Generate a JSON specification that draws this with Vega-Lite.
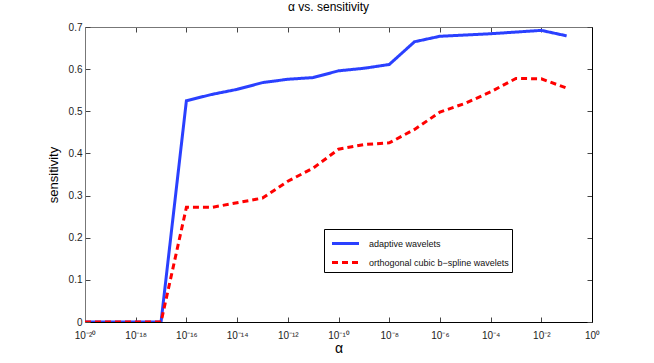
{
  "$schema": "https://vega.github.io/schema/vega-lite/v6.json",
  "width": 507,
  "height": 295,
  "autosize": {"type": "none"},
  "padding": {"left": 85, "top": 27, "right": 62, "bottom": 41},
  "background": "white",
  "title": {"text": "α vs. sensitivity", "font": "Liberation Sans", "fontSize": 12, "fontWeight": "normal", "color": "#000", "offset": 8, "dx": -10},
  "config": {
    "view": {"stroke": null},
    "font": "Liberation Sans",
    "axis": {"grid": false, "labelFont": "Liberation Sans", "titleFont": "Liberation Sans", "labelColor": "#222", "titleColor": "#000", "titleFontWeight": "normal", "tickColor": "#444", "domainColor": "#444"}
  },
  "data": {"values": [
    {"series": "adaptive wavelets", "alpha": 1e-20, "sensitivity": 0},
    {"series": "adaptive wavelets", "alpha": 1e-19, "sensitivity": 0},
    {"series": "adaptive wavelets", "alpha": 1e-18, "sensitivity": 0},
    {"series": "adaptive wavelets", "alpha": 1e-17, "sensitivity": 0},
    {"series": "adaptive wavelets", "alpha": 1e-16, "sensitivity": 0.525},
    {"series": "adaptive wavelets", "alpha": 1e-15, "sensitivity": 0.540},
    {"series": "adaptive wavelets", "alpha": 1e-14, "sensitivity": 0.552},
    {"series": "adaptive wavelets", "alpha": 1e-13, "sensitivity": 0.568},
    {"series": "adaptive wavelets", "alpha": 1e-12, "sensitivity": 0.576},
    {"series": "adaptive wavelets", "alpha": 1e-11, "sensitivity": 0.580},
    {"series": "adaptive wavelets", "alpha": 1e-10, "sensitivity": 0.596},
    {"series": "adaptive wavelets", "alpha": 1e-9, "sensitivity": 0.602},
    {"series": "adaptive wavelets", "alpha": 1e-8, "sensitivity": 0.611},
    {"series": "adaptive wavelets", "alpha": 1e-7, "sensitivity": 0.665},
    {"series": "adaptive wavelets", "alpha": 1e-6, "sensitivity": 0.678},
    {"series": "adaptive wavelets", "alpha": 1e-5, "sensitivity": 0.681},
    {"series": "adaptive wavelets", "alpha": 1e-4, "sensitivity": 0.684},
    {"series": "adaptive wavelets", "alpha": 1e-3, "sensitivity": 0.688},
    {"series": "adaptive wavelets", "alpha": 1e-2, "sensitivity": 0.692},
    {"series": "adaptive wavelets", "alpha": 1e-1, "sensitivity": 0.679},
    {"series": "orthogonal cubic b−spline wavelets", "alpha": 1e-20, "sensitivity": 0},
    {"series": "orthogonal cubic b−spline wavelets", "alpha": 1e-19, "sensitivity": 0},
    {"series": "orthogonal cubic b−spline wavelets", "alpha": 1e-18, "sensitivity": 0},
    {"series": "orthogonal cubic b−spline wavelets", "alpha": 1e-17, "sensitivity": 0},
    {"series": "orthogonal cubic b−spline wavelets", "alpha": 1e-16, "sensitivity": 0.272},
    {"series": "orthogonal cubic b−spline wavelets", "alpha": 1e-15, "sensitivity": 0.272},
    {"series": "orthogonal cubic b−spline wavelets", "alpha": 1e-14, "sensitivity": 0.283},
    {"series": "orthogonal cubic b−spline wavelets", "alpha": 1e-13, "sensitivity": 0.294},
    {"series": "orthogonal cubic b−spline wavelets", "alpha": 1e-12, "sensitivity": 0.334},
    {"series": "orthogonal cubic b−spline wavelets", "alpha": 1e-11, "sensitivity": 0.365},
    {"series": "orthogonal cubic b−spline wavelets", "alpha": 1e-10, "sensitivity": 0.410},
    {"series": "orthogonal cubic b−spline wavelets", "alpha": 1e-9, "sensitivity": 0.421},
    {"series": "orthogonal cubic b−spline wavelets", "alpha": 1e-8, "sensitivity": 0.425},
    {"series": "orthogonal cubic b−spline wavelets", "alpha": 1e-7, "sensitivity": 0.457},
    {"series": "orthogonal cubic b−spline wavelets", "alpha": 1e-6, "sensitivity": 0.498},
    {"series": "orthogonal cubic b−spline wavelets", "alpha": 1e-5, "sensitivity": 0.519},
    {"series": "orthogonal cubic b−spline wavelets", "alpha": 1e-4, "sensitivity": 0.546},
    {"series": "orthogonal cubic b−spline wavelets", "alpha": 1e-3, "sensitivity": 0.578},
    {"series": "orthogonal cubic b−spline wavelets", "alpha": 1e-2, "sensitivity": 0.577},
    {"series": "orthogonal cubic b−spline wavelets", "alpha": 1e-1, "sensitivity": 0.555}
  ]},
  "layer": [
    {
      "mark": {"type": "line", "strokeWidth": 3, "clip": true},
      "encoding": {
        "x": {"field": "alpha", "type": "quantitative",
          "scale": {"type": "log", "domain": [1e-20, 1], "nice": false},
          "axis": {"orient": "bottom", "title": "α", "titleFontSize": 14, "titlePadding": 1,
            "values": [1e-20, 1e-18, 1e-16, 1e-14, 1e-12, 1e-10, 1e-8, 1e-6, 1e-4, 1e-2, 1],
            "labelExpr": "'10' + replace(replace(replace(replace(replace(replace(replace(toString(round(log(datum.value)/LN10)), '-', '⁻'), '0', '⁰'), '1', '¹'), '2', '²'), '4', '⁴'), '6', '⁶'), '8', '⁸')",
            "labelFontSize": 10, "tickSize": -5, "labelPadding": 13, "domainColor": "#000", "labelFlush": false}},
        "y": {"field": "sensitivity", "type": "quantitative",
          "scale": {"domain": [0, 0.7], "nice": false, "zero": false},
          "axis": {"orient": "left", "title": "sensitivity", "titleFontSize": 13, "titlePadding": 8,
            "values": [0, 0.1, 0.2, 0.3, 0.4, 0.5, 0.6, 0.7], "format": ".1~f",
            "labelFontSize": 10, "tickSize": -5, "labelPadding": 8, "domainColor": "#777"}},
        "color": {"field": "series", "type": "nominal",
          "scale": {"domain": ["adaptive wavelets", "orthogonal cubic b−spline wavelets"], "range": ["#2a40ff", "#ff0000"]},
          "legend": {"title": null, "orient": "none", "legendX": 239, "legendY": 202,
            "strokeColor": "#000", "fillColor": "#fff", "padding": 3, "rowPadding": 1,
            "labelFont": "Liberation Sans", "labelFontSize": 9, "labelColor": "#111", "labelOffset": 12,
            "symbolType": "M-1.35,0H1.35", "symbolSize": 400, "symbolStrokeWidth": 3, "symbolOffset": 7}},
        "strokeDash": {"field": "series", "type": "nominal",
          "scale": {"domain": ["adaptive wavelets", "orthogonal cubic b−spline wavelets"], "range": [[1, 0], [6, 4]]},
          "legend": {"title": null}}
      }
    },
    {
      "mark": {"type": "line", "strokeOpacity": 0},
      "encoding": {
        "x": {"field": "alpha", "type": "quantitative",
          "scale": {"type": "log", "domain": [1e-20, 1], "nice": false},
          "axis": {"orient": "top", "title": null, "labels": false, "tickSize": -5, "domainColor": "#777",
            "values": [1e-20, 1e-18, 1e-16, 1e-14, 1e-12, 1e-10, 1e-8, 1e-6, 1e-4, 1e-2, 1]}},
        "y": {"field": "sensitivity", "type": "quantitative",
          "scale": {"domain": [0, 0.7], "nice": false, "zero": false},
          "axis": {"orient": "right", "title": null, "labels": false, "tickSize": -5, "domainColor": "#000",
            "values": [0, 0.1, 0.2, 0.3, 0.4, 0.5, 0.6, 0.7]}}
      }
    }
  ],
  "resolve": {"axis": {"x": "independent", "y": "independent"}}
}
